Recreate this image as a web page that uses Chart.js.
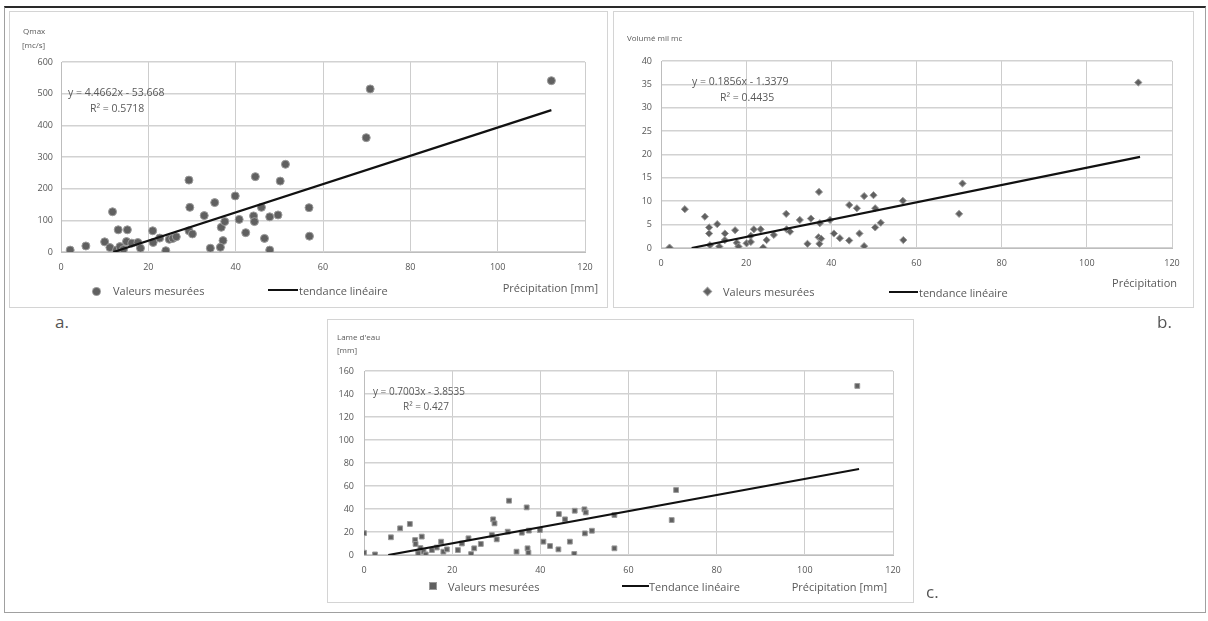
<!DOCTYPE html>
<html>
<head>
<meta charset="utf-8">
<script src="https://cdn.jsdelivr.net/npm/chart.js@4.4.1/dist/chart.umd.min.js"></script>
<style>
  body { margin: 0; width: 1208px; height: 621px; background: #fff; position: relative; overflow: hidden;
         font-family: 'Open Sans', 'Liberation Sans', sans-serif; color: #595959; }
  .frame { position: absolute; left: 4px; top: 6px; width: 1200px; height: 604px;
           border: 1px solid #a0a0a0; border-top: 2px solid #2a2a2a; }
  .panel { position: absolute; outline: 1px solid #d4d4d4; background: #fff; }
  .panel canvas { position: absolute; left: 0; top: 0; }
  .txt { position: absolute; white-space: nowrap; line-height: 1; }
  .mk { position: absolute; background: #606060; box-shadow: 0 0 0 1px #9a9a9a; }
  .ln { position: absolute; height: 0; border-top: 2px solid #111; }
</style>
</head>
<body>
<div class="frame"></div>
<div class="panel" id="pa"><canvas id="ca"></canvas></div>
<div class="panel" id="pb"><canvas id="cb"></canvas></div>
<div class="panel" id="pc"><canvas id="cc"></canvas></div>
<script>
// ---- data ----
const xTicks = [0, 20, 40, 60, 80, 100, 120];

// a. Qmax [mc/s] vs precipitation [mm]
const precipA = [2.1, 5.7, 10, 11.8, 11.2, 12.7, 13.5, 13.1, 15.2, 13.5, 14.3, 15, 16.2, 17.6, 18.2,
  21, 21.1, 22.6, 24, 24.8, 25.6, 26.4, 29.3, 29.5, 29.3, 30.1, 32.8, 34.2, 35.2, 36.7, 37.5, 37.1,
  36.5, 39.9, 40.8, 42.3, 44.5, 44.1, 44.3, 45.9, 46.6, 47.8, 47.8, 49.7, 50.2, 51.4, 56.8, 56.9,
  70.8, 69.9, 112.3];
const qmaxA = [6, 19, 32, 127, 14, 6, 3, 70, 70, 17, 8, 33, 28, 30, 12,
  67, 30, 44, 4, 40, 43, 48, 227, 141, 67, 57, 115, 12, 156, 78, 96, 36,
  15, 177, 103, 61, 238, 114, 96, 141, 43, 6, 111, 117, 224, 277, 140, 50,
  515, 361, 541];
const trendAx = [12.0, 112.3];
const trendAy = [0, 448];

// b. Volume [mil mc] vs precipitation
const precipB = [2, 5.6, 10.3, 11.3, 11.3, 13.2, 11.5, 13.7, 15, 15, 17.4, 17.8, 18.2, 20.1, 21.1,
  21.1, 21.8, 23.4, 24, 24.8, 26.5, 29.4, 29.5, 30.3, 32.6, 34.4, 35.2, 37.1, 37, 37.6, 37.2, 37.3,
  39.7, 40.6, 42, 44.2, 44.2, 46, 46.6, 47.7, 47.7, 49.9, 50.3, 50.3, 51.6, 56.8, 56.9, 70.8, 70, 112.1];
const volumeB = [0.1, 8.3, 6.7, 4.4, 3.1, 5.1, 0.6, 0.3, 3.1, 1.7, 3.8, 1.1, 0.3, 1, 2.6,
  1.3, 4, 4, 0.1, 1.7, 2.8, 7.3, 4, 3.5, 6, 0.9, 6.3, 12, 2.3, 2, 0.9, 5.3,
  6, 3.1, 2.1, 1.6, 9.2, 8.5, 3.1, 0.4, 11.1, 11.3, 8.5, 4.4, 5.4, 10.1, 1.7, 13.8, 7.3, 35.4];
const trendBx = [7.2, 112.5];
const trendBy = [0, 19.5];

// c. Lame d'eau [mm] vs precipitation
const precipC = [0, 0, 2.5, 6.1, 8.2, 10.4, 11.6, 11.7, 13.1, 12.3, 12.8, 13.5, 14, 15.4, 16.5, 17.5,
  18, 18.8, 21.3, 22.2, 23.7, 24.3, 25, 26.5, 29.3, 29.6, 29, 30.1, 32.9, 32.6, 34.6, 35.8, 36.9,
  37.1, 37.3, 37.4, 39.9, 40.7, 42.2, 44.2, 44.1, 45.6, 46.7, 47.7, 47.8, 50, 50.3, 50.1, 51.7,
  56.8, 56.8, 70.8, 69.8, 111.9];
const lameC = [2, 19, 0.5, 15.4, 23.2, 27, 13, 9.6, 16, 1.5, 6, 2.9, 0.5, 4.3, 6.5, 11.6,
  2.9, 4.9, 4.3, 10, 14.5, 0.8, 5.8, 9.6, 31, 27.5, 17.4, 13.6, 47.2, 20.3, 2.9, 19.4, 41.4,
  5.8, 2, 21.2, 21.7, 11.6, 7.8, 35.6, 4.9, 31, 11.6, 0.9, 38.5, 39.7, 37, 18.8, 21.1,
  34.8, 5.8, 56.5, 30.4, 147];
const trendCx = [5.5, 112.3];
const trendCy = [0, 74.8];

// ---- layout (page pixels) ----
const Y_W = 45, X_H = 30;
const INK = '#555';

function pts(xs, ys) { return xs.map((x, i) => ({ x: x, y: ys[i] })); }

function makeChart(id, box, plot, xs, ys, tx, ty, yMax, yStep, style, radius, yPad) {
  const p = document.getElementById('p' + id);
  p.style.left = box.l + 'px'; p.style.top = box.t + 'px';
  p.style.width = box.w + 'px'; p.style.height = box.h + 'px';
  const cv = document.getElementById('c' + id);
  cv.width = box.w; cv.height = box.h;

  return new Chart(cv, {
    type: 'scatter',
    data: {
      datasets: [
        { label: 'tendance linéaire', type: 'line', data: pts(tx, ty), order: 0,
          borderColor: '#111', borderWidth: 2.2, pointRadius: 0, showLine: true, fill: false },
        { label: 'Valeurs mesurées', data: pts(xs, ys), order: 1, pointStyle: style,
          pointRadius: radius, backgroundColor: '#606060', borderColor: '#9a9a9a', borderWidth: 1 }
      ]
    },
    options: {
      responsive: false,
      animation: false,
      layout: { padding: {
        left: plot.l - box.l - Y_W, top: plot.t - box.t,
        right: box.l + box.w - plot.r, bottom: box.t + box.h - plot.b - X_H } },
      plugins: { legend: { display: false }, tooltip: { enabled: false } },
      scales: {
        x: {
          type: 'linear', min: 0, max: 120,
          afterFit: s => { s.height = X_H; },
          afterBuildTicks: s => { s.ticks = xTicks.map(v => ({ value: v })); },
          ticks: { color: INK, font: { size: 9, family: "'Open Sans', sans-serif" }, padding: 10 },
          grid: { color: '#cdcdcd', lineWidth: 1, drawTicks: false },
          border: { color: '#bdbdbd' }
        },
        y: {
          min: 0, max: yMax,
          afterFit: s => { s.width = Y_W; },
          ticks: { stepSize: yStep, color: INK, font: { size: 9, family: "'Open Sans', sans-serif" }, padding: yPad },
          grid: { color: '#d2d2d2', lineWidth: 1.6, drawTicks: false },
          border: { color: '#bdbdbd' }
        }
      }
    }
  });
}

makeChart('a', { l: 10, t: 12, w: 597, h: 295 }, { l: 61, r: 585, t: 62, b: 252 },
  precipA, qmaxA, trendAx, trendAy, 600, 100, 'circle', 4, 8);
makeChart('b', { l: 614, t: 12, w: 579, h: 295 }, { l: 661, r: 1172, t: 61, b: 248 },
  precipB, volumeB, trendBx, trendBy, 40, 5, 'rectRot', 3.6, 9);
makeChart('c', { l: 328, t: 320, w: 585, h: 282 }, { l: 364, r: 893, t: 371, b: 555 },
  precipC, lameC, trendCx, trendCy, 160, 20, 'rect', 3.4, 10);

// ---- text and legend overlays ----
function text(str, x, y, size, align, color) {
  const d = document.createElement('div');
  d.className = 'txt';
  d.textContent = str;
  d.style.fontSize = size + 'px';
  d.style.top = (y - size / 2) + 'px';
  if (color) d.style.color = color;
  if (align === 'right') { d.style.right = (1208 - x) + 'px'; } else { d.style.left = x + 'px'; }
  document.body.appendChild(d);
}
function marker(shape, x, y) {
  const d = document.createElement('div');
  d.className = 'mk';
  const s = shape === 'circle' ? 7 : (shape === 'diamond' ? 5 : 6);
  d.style.width = s + 'px'; d.style.height = s + 'px';
  d.style.left = (x - s / 2) + 'px'; d.style.top = (y - s / 2) + 'px';
  if (shape === 'circle') d.style.borderRadius = '50%';
  if (shape === 'diamond') d.style.transform = 'rotate(45deg)';
  document.body.appendChild(d);
}
function line(x1, x2, y) {
  const d = document.createElement('div');
  d.className = 'ln';
  d.style.left = x1 + 'px'; d.style.width = (x2 - x1) + 'px'; d.style.top = (y - 1) + 'px';
  document.body.appendChild(d);
}

// a.
text('Qmax', 23, 31, 8);
text('[mc/s]', 22, 45, 8);
text('y = 4.4662x - 53.668', 68, 92, 10.5);
text('R² = 0.5718', 90, 108, 10.5);
marker('circle', 96, 291);
text('Valeurs mesurées', 113, 290, 11);
line(268, 298, 290);
text('tendance linéaire', 299, 290, 11);
text('Précipitation [mm]', 598, 287, 11, 'right');
text('a.', 55, 321, 17, null, '#555');

// b.
text('Volumé mil mc', 627, 38, 8);
text('y = 0.1856x - 1.3379', 692, 81, 10.5);
text('R² = 0.4435', 720, 97, 10.5);
marker('diamond', 707, 291);
text('Valeurs mesurées', 723, 291, 11);
line(889, 918, 292);
text('tendance linéaire', 919, 292, 11);
text('Précipitation', 1177, 282, 11, 'right');
text('b.', 1157, 321, 17, null, '#555');

// c.
text("Lame d'eau", 337, 337, 8);
text('[mm]', 337, 350, 8);
text('y = 0.7003x - 3.8535', 373, 391, 10);
text('R² = 0.427', 403, 406, 10);
marker('square', 433, 586);
text('Valeurs mesurées', 448, 586, 11);
line(622, 649, 586);
text('Tendance linéaire', 649, 586, 11);
text('Précipitation [mm]', 887, 586, 11, 'right');
text('c.', 926, 591, 17, null, '#555');
</script>
</body>
</html>
